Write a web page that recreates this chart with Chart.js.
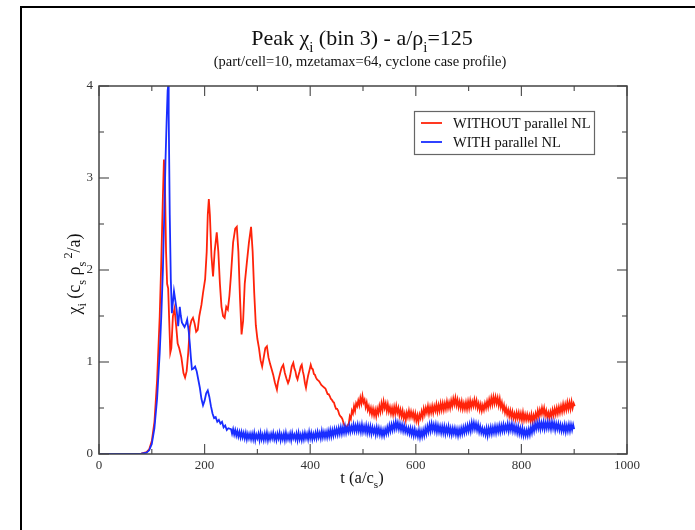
<!DOCTYPE html>
<html>
<head>
<meta charset="utf-8">
<script src="https://cdn.jsdelivr.net/npm/chart.js@4.4.0/dist/chart.umd.min.js"></script>
<style>
    html, body { margin: 0; padding: 0; background: #fff; }
    #grafico { position: absolute; left: 0; top: 0; }
</style>
</head>
<body>
<canvas id="grafico" width="695" height="530"></canvas>
<script>

//***********************
//Dados
//***********************

//WITHOUT parallel NL: parte inicial em pares [t (a/cs), chi_i]
const sem_paralelo_inicio = [
    [0,0],[80,0.005],[90,0.02],[95,0.05],[100,0.14],[105,0.35],[110,0.8],[115,1.5],[118,2.1],[121,2.8],
    [123,3.2],[125,2.9],[127,2.2],[129,1.85],[131,1.8],[133,1.45],[135,1.1],[137,1.15],[140,1.5],[143,1.58],
    [146,1.4],[149,1.2],[152,1.15],[156,1.05],[160,0.88],[163,0.83],[166,0.9],[169,1.1],[172,1.38],[175,1.45],
    [178,1.48],[181,1.42],[184,1.33],[187,1.35],[190,1.5],[194,1.62],[197,1.75],[201,1.9],[204,2.2],[206,2.6],
    [208,2.77],[210,2.6],[213,2.15],[216,1.93],[219,2.2],[223,2.41],[226,2.2],[229,1.85],[232,1.6],[235,1.5],
    [238,1.48],[241,1.6],[244,1.57],[247,1.72],[250,1.95],[254,2.3],[258,2.45],[261,2.47],[264,2.2],[267,1.7],
    [270,1.3],[273,1.45],[276,1.85],[280,2.08],[284,2.3],[288,2.47],[291,2.2],[294,1.75],[297,1.4],[300,1.25],
    [303,1.15],[306,1.02],[309,0.95],[312,1.05],[315,1.15],[318,1.17],[321,1.05],[324,0.98],[327,0.92],[330,0.86],
    [333,0.78],[335,0.74],[337,0.70],[339,0.78],[341,0.83],[344,0.90],[346,0.94],[349,0.97],[352,0.88],[355,0.82],
    [358,0.77],[360,0.80],[362,0.85],[365,0.95],[368,0.99],[370,0.93],[372,0.90],[374,0.84],[376,0.81],[378,0.86],
    [380,0.90],[382,0.95],[384,0.97],[386,0.90],[388,0.85],[390,0.77],[392,0.72],[394,0.79],[396,0.85],[399,0.92],
    [401,0.97],[403,0.93],[405,0.92],[407,0.87],[409,0.86],[411,0.83],[413,0.81],[415,0.80],[417,0.79],[419,0.77],
    [421,0.75],[423,0.74],[425,0.73],[427,0.72],[429,0.71],[431,0.68],[433,0.65],[435,0.65],[437,0.63],[439,0.60],
    [441,0.59],[443,0.57],[445,0.56],[447,0.52],[449,0.49],[451,0.49],[453,0.47],[455,0.43],[457,0.41],[459,0.40],
    [461,0.38],[463,0.34],[465,0.31],[467,0.30],[469,0.28]
];

//WITHOUT parallel NL: trecho ruidoso, amostrado a cada 2 unidades a partir de t=471
const sem_paralelo_t0 = 471;
const sem_paralelo_cauda = [
    0.31,0.33,0.41,0.38,0.47,0.44,0.52,0.47,0.55,0.52,
    0.58,0.53,0.61,0.55,0.63,0.56,0.59,0.51,0.56,0.48,
    0.52,0.45,0.50,0.43,0.49,0.42,0.48,0.41,0.49,0.44,
    0.52,0.46,0.55,0.48,0.57,0.50,0.55,0.47,0.54,0.46,
    0.51,0.44,0.50,0.43,0.51,0.44,0.52,0.45,0.50,0.42,
    0.48,0.41,0.47,0.39,0.44,0.37,0.45,0.40,0.47,0.40,
    0.46,0.40,0.45,0.38,0.44,0.36,0.42,0.35,0.43,0.39,
    0.46,0.40,0.49,0.43,0.50,0.45,0.52,0.44,0.51,0.45,
    0.52,0.45,0.52,0.47,0.54,0.46,0.53,0.47,0.55,0.48,
    0.55,0.48,0.55,0.49,0.57,0.50,0.56,0.50,0.58,0.52,
    0.60,0.54,0.61,0.53,0.59,0.51,0.57,0.50,0.57,0.49,
    0.55,0.49,0.56,0.49,0.57,0.50,0.58,0.51,0.57,0.52,
    0.59,0.52,0.58,0.50,0.55,0.48,0.54,0.47,0.53,0.48,
    0.55,0.50,0.57,0.51,0.59,0.53,0.61,0.54,0.62,0.55,
    0.62,0.55,0.61,0.53,0.60,0.51,0.56,0.48,0.53,0.45,
    0.50,0.43,0.48,0.41,0.47,0.40,0.46,0.39,0.44,0.38,
    0.45,0.39,0.45,0.38,0.44,0.37,0.45,0.37,0.43,0.37,
    0.43,0.37,0.42,0.36,0.43,0.35,0.42,0.37,0.44,0.39,
    0.47,0.41,0.48,0.43,0.50,0.44,0.50,0.42,0.47,0.40,
    0.45,0.39,0.46,0.41,0.48,0.42,0.49,0.43,0.50,0.44,
    0.51,0.45,0.52,0.46,0.54,0.47,0.54,0.48,0.56,0.49,
    0.56,0.49,0.57,0.50,0.55,0.52
];

//WITH parallel NL: parte inicial em pares [t (a/cs), chi_i]
const com_paralelo_inicio = [
    [0,0],[80,0.003],[90,0.015],[95,0.04],[100,0.11],[105,0.28],[110,0.6],[115,1.1],[118,1.5],[121,2.0],
    [124,2.7],[126,3.2],[128,3.6],[130,3.95],[131,4.0],[132,3.7],[134,2.6],[136,1.9],[138,1.53],[140,1.65],
    [142,1.77],[145,1.65],[147,1.57],[150,1.39],[153,1.6],[155,1.5],[157,1.43],[160,1.4],[162,1.38],[165,1.42],
    [167,1.46],[170,1.33],[172,1.2],[174,1.05],[176,0.92],[179,0.93],[182,0.95],[185,0.9],[188,0.81],[191,0.72],
    [194,0.6],[197,0.53],[200,0.58],[203,0.66],[206,0.69],[209,0.62],[212,0.52],[215,0.44],[218,0.39],[221,0.4],
    [224,0.35],[227,0.37],[230,0.33],[233,0.35],[236,0.29],[239,0.31],[242,0.26],[245,0.28]
];

//WITH parallel NL: trecho ruidoso, amostrado a cada 2 unidades a partir de t=250
const com_paralelo_t0 = 250;
const com_paralelo_cauda = [
    0.27,0.22,0.27,0.21,0.26,0.20,0.25,0.19,0.24,0.18,
    0.24,0.18,0.23,0.17,0.23,0.16,0.22,0.17,0.22,0.16,
    0.22,0.16,0.23,0.15,0.21,0.17,0.22,0.15,0.23,0.16,
    0.21,0.15,0.22,0.16,0.23,0.15,0.21,0.16,0.22,0.17,
    0.23,0.16,0.21,0.15,0.22,0.17,0.23,0.15,0.21,0.16,
    0.22,0.15,0.23,0.16,0.21,0.16,0.22,0.15,0.23,0.17,
    0.21,0.16,0.22,0.15,0.23,0.16,0.21,0.15,0.22,0.16,
    0.23,0.17,0.22,0.16,0.24,0.17,0.23,0.16,0.22,0.17,
    0.23,0.17,0.24,0.18,0.23,0.17,0.25,0.18,0.24,0.18,
    0.24,0.18,0.25,0.19,0.26,0.19,0.26,0.20,0.27,0.21,
    0.27,0.21,0.28,0.22,0.29,0.22,0.29,0.23,0.30,0.23,
    0.29,0.24,0.31,0.24,0.30,0.25,0.32,0.25,0.31,0.25,
    0.32,0.25,0.31,0.24,0.32,0.24,0.30,0.24,0.31,0.23,
    0.30,0.23,0.30,0.22,0.29,0.23,0.28,0.21,0.29,0.22,
    0.28,0.21,0.27,0.20,0.26,0.20,0.27,0.22,0.29,0.23,
    0.31,0.25,0.32,0.26,0.33,0.27,0.35,0.28,0.34,0.27,
    0.33,0.26,0.32,0.25,0.31,0.24,0.29,0.23,0.28,0.22,
    0.28,0.21,0.27,0.20,0.27,0.20,0.25,0.19,0.26,0.18,
    0.25,0.19,0.26,0.20,0.28,0.22,0.30,0.24,0.32,0.25,
    0.33,0.26,0.32,0.25,0.32,0.24,0.31,0.24,0.30,0.23,
    0.30,0.23,0.30,0.22,0.29,0.23,0.30,0.22,0.28,0.21,
    0.28,0.22,0.28,0.21,0.27,0.20,0.27,0.21,0.28,0.22,
    0.29,0.23,0.30,0.24,0.31,0.25,0.32,0.25,0.34,0.27,
    0.34,0.27,0.33,0.26,0.32,0.24,0.30,0.23,0.28,0.22,
    0.27,0.21,0.28,0.20,0.28,0.22,0.29,0.22,0.29,0.23,
    0.30,0.23,0.30,0.24,0.31,0.24,0.31,0.25,0.32,0.25,
    0.31,0.26,0.33,0.25,0.32,0.26,0.33,0.25,0.31,0.24,
    0.30,0.23,0.30,0.22,0.28,0.21,0.28,0.20,0.26,0.20,
    0.26,0.20,0.27,0.21,0.29,0.23,0.31,0.25,0.33,0.27,
    0.34,0.28,0.35,0.27,0.34,0.28,0.35,0.27,0.34,0.28,
    0.35,0.28,0.34,0.27,0.35,0.28,0.34,0.26,0.33,0.27,
    0.33,0.26,0.32,0.25,0.31,0.25,0.32,0.24,0.31,0.25,
    0.32,0.25,0.32,0.26,0.32,0.27
];
const passo_amostragem = 2;

const nomes_series = ['WITHOUT parallel NL', 'WITH parallel NL'];
const limites_t = [0, 1000];
const limites_chi = [0, 4];
const passo_t = 200;
const passo_chi = 1;

const COR_VERMELHA = 'rgb(255,35,10)';
const COR_AZUL = 'rgb(25,45,255)';
const FONTE = "'Liberation Serif', 'DejaVu Serif', serif";


//***********************
//Texto com subscrito / sobrescrito
//***********************
function escrever_rico(ctx, partes, x, y, tamanho, alinhamento){

    const tam_menor = tamanho * 0.68;
    let largura = 0;
    partes.forEach(p => {
        ctx.font = (p.tipo ? tam_menor : tamanho) + 'px ' + FONTE;
        largura += ctx.measureText(p.t).width;
    });

    let cursor = alinhamento === 'center' ? x - largura / 2 : x;
    ctx.textAlign = 'left';
    ctx.textBaseline = 'alphabetic';

    partes.forEach(p => {
        ctx.font = (p.tipo ? tam_menor : tamanho) + 'px ' + FONTE;
        let dy = 0;
        if (p.tipo === 'sub') dy = tamanho * 0.32;
        if (p.tipo === 'sup') dy = -tamanho * 0.45;
        ctx.fillText(p.t, cursor, y + dy);
        cursor += ctx.measureText(p.t).width;
    });
}


//***********************
//Decoração estilo xmgrace: moldura, ticks internos, títulos, legenda
//***********************
const decoracao = {
    id: 'decoracao',

    afterDraw(chart){

        const ctx = chart.ctx;
        const area = chart.chartArea;
        const ex = chart.scales.x;
        const ey = chart.scales.y;

        ctx.save();

        //moldura externa da página
        ctx.strokeStyle = '#000';
        ctx.lineWidth = 2;
        ctx.beginPath();
        ctx.moveTo(21, 530);
        ctx.lineTo(21, 7);
        ctx.lineTo(695, 7);
        ctx.stroke();

        //ticks para dentro, nos quatro lados
        const linha = (x1, y1, x2, y2) => {
            ctx.beginPath();
            ctx.moveTo(x1, y1);
            ctx.lineTo(x2, y2);
            ctx.stroke();
        };

        ctx.strokeStyle = '#555';
        ctx.lineWidth = 1.2;

        ex.ticks.forEach((tk, i) => {
            const px = ex.getPixelForValue(tk.value);
            linha(px, area.bottom, px, area.bottom - 10);
            linha(px, area.top, px, area.top + 10);
            if (i < ex.ticks.length - 1) {
                const pm = ex.getPixelForValue((tk.value + ex.ticks[i + 1].value) / 2);
                linha(pm, area.bottom, pm, area.bottom - 5);
                linha(pm, area.top, pm, area.top + 5);
            }
        });

        ey.ticks.forEach((tk, i) => {
            const py = ey.getPixelForValue(tk.value);
            linha(area.left, py, area.left + 10, py);
            linha(area.right, py, area.right - 10, py);
            if (i < ey.ticks.length - 1) {
                const pm = ey.getPixelForValue((tk.value + ey.ticks[i + 1].value) / 2);
                linha(area.left, pm, area.left + 5, pm);
                linha(area.right, pm, area.right - 5, pm);
            }
        });

        //caixa do gráfico
        ctx.strokeStyle = '#444';
        ctx.lineWidth = 1.5;
        ctx.strokeRect(area.left, area.top, area.right - area.left, area.bottom - area.top);

        //títulos
        ctx.fillStyle = '#111';
        escrever_rico(ctx, [
            {t: 'Peak χ'}, {t: 'i', tipo: 'sub'}, {t: ' (bin 3) - a/ρ'}, {t: 'i', tipo: 'sub'}, {t: '=125'}
        ], 362, 45, 22, 'center');

        ctx.font = '14.5px ' + FONTE;
        ctx.textAlign = 'center';
        ctx.fillText('(part/cell=10, mzetamax=64, cyclone case profile)', 360, 66);

        escrever_rico(ctx, [
            {t: 't (a/c'}, {t: 's', tipo: 'sub'}, {t: ')'}
        ], 362, 483, 16.5, 'center');

        ctx.save();
        ctx.translate(80, 274);
        ctx.rotate(-Math.PI / 2);
        escrever_rico(ctx, [
            {t: 'χ'}, {t: 'i', tipo: 'sub'}, {t: ' (c'}, {t: 's', tipo: 'sub'}, {t: ' ρ'},
            {t: 's', tipo: 'sub'}, {t: ' 2', tipo: 'sup'}, {t: '/a)'}
        ], 0, 0, 18, 'center');
        ctx.restore();

        //legenda
        ctx.strokeStyle = '#666';
        ctx.lineWidth = 1.2;
        ctx.strokeRect(414.5, 111.5, 180, 43);

        const cores = [COR_VERMELHA, COR_AZUL];
        const ys = [123, 142];
        chart.data.datasets.forEach((ds, i) => {
            ctx.strokeStyle = cores[i];
            ctx.lineWidth = 1.8;
            linha(421, ys[i], 442, ys[i]);
            ctx.fillStyle = '#111';
            ctx.font = '14.5px ' + FONTE;
            ctx.textAlign = 'left';
            ctx.textBaseline = 'alphabetic';
            ctx.fillText(ds.label, 453, ys[i] + 5);
        });

        ctx.restore();
    }
};


//***********************
//Monta os pontos {x, y} de cada série
//***********************
function montar_pontos(inicio, t0, cauda){

    const pontos = inicio.map(p => ({x: p[0], y: p[1]}));
    cauda.forEach((valor, i) => {
        pontos.push({x: t0 + i * passo_amostragem, y: valor});
    });
    return pontos;
}

const fonte_ticks = {family: FONTE, size: 13};

new Chart(document.getElementById('grafico').getContext('2d'), {
    type: 'line',
    data: {
        datasets: [
            {
                label: nomes_series[0],
                data: montar_pontos(sem_paralelo_inicio, sem_paralelo_t0, sem_paralelo_cauda),
                borderColor: COR_VERMELHA,
                borderWidth: 1.8,
                pointRadius: 0,
                tension: 0,
                order: 1
            },
            {
                label: nomes_series[1],
                data: montar_pontos(com_paralelo_inicio, com_paralelo_t0, com_paralelo_cauda),
                borderColor: COR_AZUL,
                borderWidth: 1.8,
                pointRadius: 0,
                tension: 0,
                order: 0
            }
        ]
    },
    options: {
        responsive: false,
        animation: false,
        devicePixelRatio: 1,
        layout: {padding: {top: 86, right: 68, left: 0, bottom: 0}},
        plugins: {
            legend: {display: false},
            title: {display: false},
            tooltip: {enabled: false}
        },
        scales: {
            x: {
                type: 'linear',
                min: limites_t[0],
                max: limites_t[1],
                ticks: {
                    stepSize: passo_t, color: '#333', font: fonte_ticks, padding: 4, maxRotation: 0,
                    callback: valor => String(valor)
                },
                grid: {display: false, drawTicks: false},
                border: {display: false},
                afterFit: escala => { escala.height = 76; }
            },
            y: {
                type: 'linear',
                min: limites_chi[0],
                max: limites_chi[1],
                ticks: {stepSize: passo_chi, color: '#333', font: fonte_ticks, padding: 6},
                grid: {display: false, drawTicks: false},
                border: {display: false},
                afterFit: escala => { escala.width = 99; }
            }
        }
    },
    plugins: [decoracao]
});
</script>
</body>
</html>
